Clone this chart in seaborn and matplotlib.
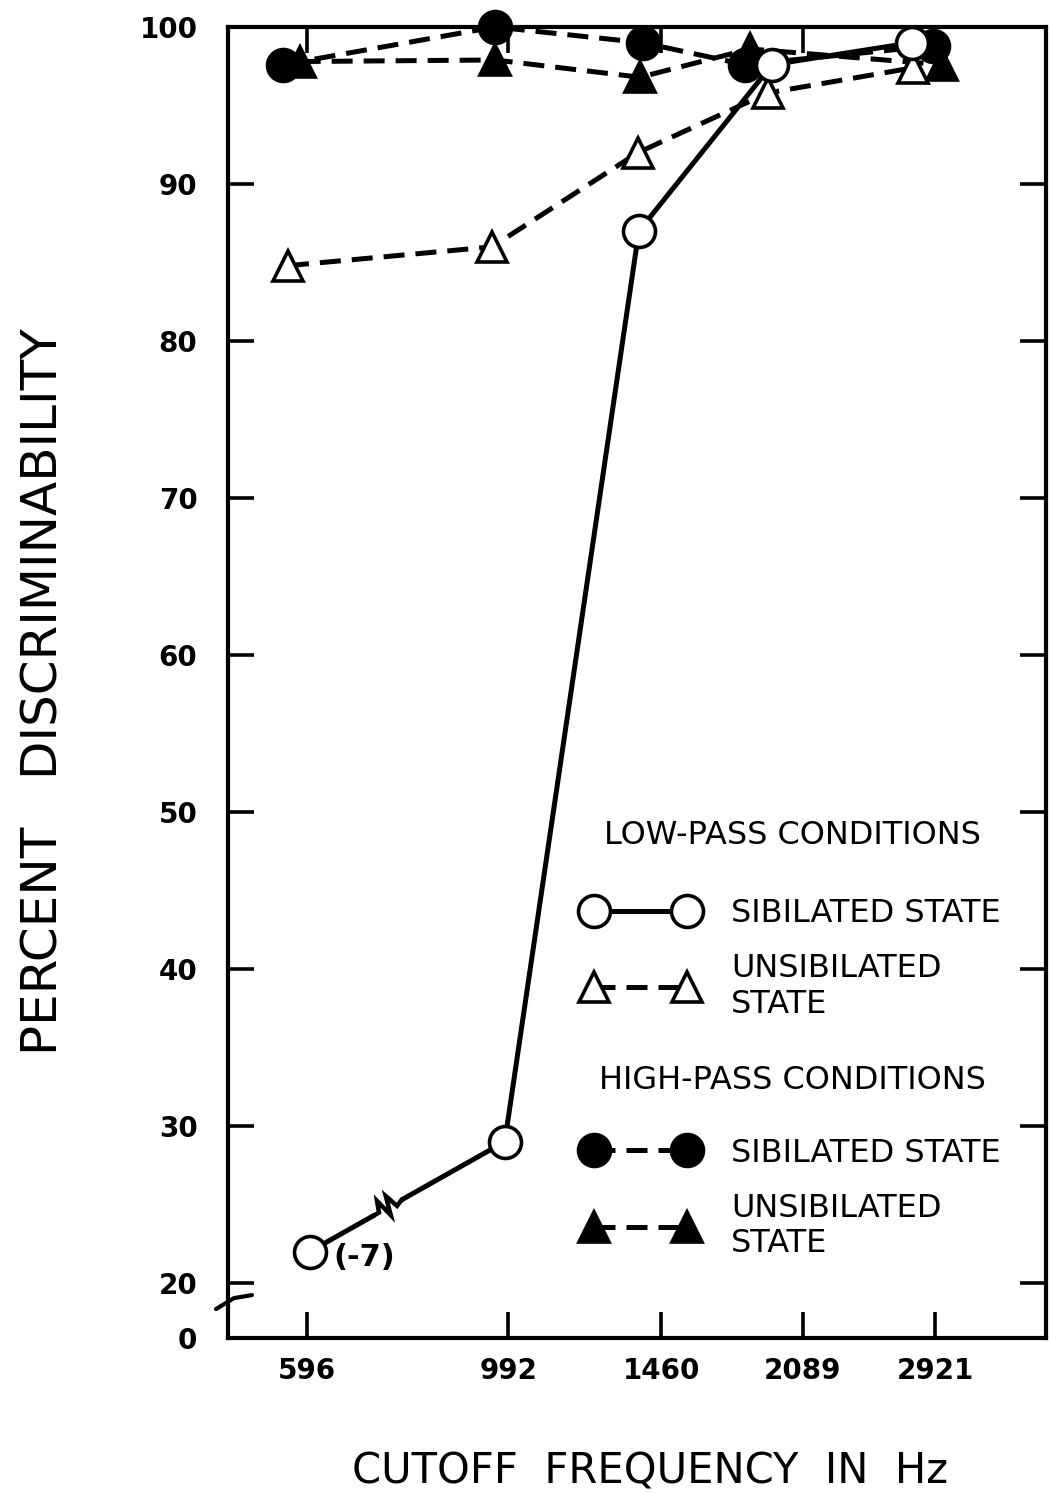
import numpy as np
import pandas as pd
import matplotlib
matplotlib.use("Agg")
import matplotlib.pyplot as plt
from matplotlib.lines import Line2D
import seaborn as sns

# ---------------- data ----------------
freq_ticks = [596, 992, 1460, 2089, 2921]
freq_tick_labels = ["596", "992", "1460", "2089", "2921"]
y_ticks = [0, 20, 30, 40, 50, 60, 70, 80, 90, 100]
y_tick_labels = ["0", "20", "30", "40", "50", "60", "70", "80", "90", "100"]

# low-pass, sibilated state (open circles, solid)
lp_sib_hz = [600, 983, 1380, 1933, 2754]
lp_sib_pct = [22, 29, 87, 97.6, 99.0]
lp_sib_note = "(-7)"
# low-pass, unsibilated state (open triangles, dashed)
lp_unsib_hz = [568, 952, 1377, 1913, 2761]
lp_unsib_pct = [84.8, 86.0, 92.0, 95.8, 97.4]
# high-pass, sibilated state (filled circles, dashed)
hp_sib_hz = [561, 959, 1394, 1805, 2905]
hp_sib_pct = [97.6, 100.0, 99.0, 97.6, 98.8]
# high-pass, unsibilated state (filled triangles, dashed)
hp_unsib_hz = [585, 959, 1384, 1828, 2972]
hp_unsib_pct = [97.8, 97.9, 96.8, 98.6, 97.6]

x_label = "CUTOFF  FREQUENCY  IN  Hz"
y_label = "PERCENT   DISCRIMINABILITY"
lp_title = "LOW-PASS CONDITIONS"
hp_title = "HIGH-PASS CONDITIONS"
lab_sib = "SIBILATED STATE"
lab_unsib = "UNSIBILATED\nSTATE"

# ---------------- style ----------------
sns.set_theme(style="white")
plt.rcParams["font.family"] = ["DejaVu Sans"]
plt.rcParams["axes.edgecolor"] = "black"
plt.rcParams["text.color"] = "black"
plt.rcParams["axes.labelcolor"] = "black"

W, H = 1051, 1492
fig = plt.figure(figsize=(W / 100, H / 100), dpi=100)
ax = fig.add_axes([228 / W, 1 - 1338 / H, (1046 - 228) / W, (1338 - 27) / H])

# broken y axis: 0..20 compressed
K = 0.175
def yfwd(y):
    y = np.asarray(y, dtype=float)
    return np.where(y >= 20, y, 20 - (20 - y) * K)

def yinv(t):
    t = np.asarray(t, dtype=float)
    return np.where(t >= 20, t, 20 - (20 - t) / K)

ax.set_xscale("log")
ax.set_yscale("function", functions=(yfwd, yinv))
ax.set_xlim(488, 3866)
ax.set_ylim(0, 100)

LW = 3.6
MS_C = 23
MS_T = 22
MEW = 2.6
dash = (0, (4.2, 2.2))

common = dict(ax=ax, color="black", estimator=None, sort=False, clip_on=False)

# high-pass (filled)
sns.lineplot(x=hp_unsib_hz, y=hp_unsib_pct, marker="^", markersize=MS_T,
             markerfacecolor="black", markeredgecolor="black", markeredgewidth=MEW,
             linewidth=LW, linestyle=dash, zorder=3, **common)
sns.lineplot(x=hp_sib_hz, y=hp_sib_pct, marker="o", markersize=MS_C,
             markerfacecolor="black", markeredgecolor="black", markeredgewidth=MEW,
             linewidth=LW, linestyle=dash, zorder=3, **common)
# low-pass (open)
sns.lineplot(x=lp_unsib_hz, y=lp_unsib_pct, marker="^", markersize=MS_T,
             markerfacecolor="white", markeredgecolor="black", markeredgewidth=MEW,
             linewidth=LW, linestyle=dash, zorder=4, **common)
sns.lineplot(x=lp_sib_hz, y=lp_sib_pct, marker="o", markersize=MS_C,
             markerfacecolor="white", markeredgecolor="black", markeredgewidth=MEW,
             linewidth=LW, linestyle="-", zorder=4, **common)

# ---------------- axes cosmetics ----------------
ax.minorticks_off()
ax.set_xticks(freq_ticks)
ax.set_xticklabels(freq_tick_labels)
ax.set_yticks(y_ticks)
ax.set_yticklabels(y_tick_labels)
for s in ax.spines.values():
    s.set_linewidth(3.0)
    s.set_color("black")
    s.set_visible(True)
ax.tick_params(axis="both", which="major", direction="in", length=19, width=2.6,
               color="black", labelsize=20, labelcolor="black",
               top=True, right=True, bottom=True, left=True)
ax.tick_params(axis="x", pad=14)
ax.tick_params(axis="y", pad=22)
for lab in ax.get_xticklabels() + ax.get_yticklabels():
    lab.set_fontweight("bold")
ax.grid(False)

ax.set_xlabel(x_label, fontsize=30, color="black")
ax.set_ylabel(y_label, fontsize=36, color="black")
ax.xaxis.set_label_coords(0.516, -0.086)
ax.yaxis.set_label_coords(-0.196, 0.493)

# annotation of the off-scale point
ax.annotate(lp_sib_note, xy=(lp_sib_hz[0], lp_sib_pct[0]), xytext=(17, -4),
            textcoords="offset points", fontsize=22, fontweight="bold",
            ha="left", va="center", color="black")

# zig-zag break mark on the first low-pass segment
p0 = ax.transData.transform((lp_sib_hz[0], lp_sib_pct[0]))
p1 = ax.transData.transform((lp_sib_hz[1], lp_sib_pct[1]))
d = p1 - p0
u = d / np.hypot(*d)
nvec = np.array([-u[1], u[0]])
c = p0 + 0.40 * d
inv = ax.transData.inverted()
erase = np.array([c - 15 * u, c + 15 * u])
erase_d = inv.transform(erase)
ax.plot(erase_d[:, 0], erase_d[:, 1], color="white", lw=LW + 3, zorder=4.5,
        solid_capstyle="butt")
ts = [-16, -10, -6, -1, 4, 9, 16]
ns = [0, 0, 11, -8, 11, -3, 0]
zz = np.array([c + t * u + n * nvec for t, n in zip(ts, ns)])
zz_d = inv.transform(zz)
ax.plot(zz_d[:, 0], zz_d[:, 1], color="black", lw=LW * 0.9, zorder=4.6,
        solid_joinstyle="miter")

# y-axis break mark (drawn in pixel offsets from the spine)
sp = ax.transData.transform((ax.get_xlim()[0], 13.8))
ainv = ax.transData.inverted()
brk = ainv.transform(np.array([[sp[0] - 12, sp[1] - 9], [sp[0] + 6, sp[1] + 2],
                               [sp[0] + 24, sp[1] + 5]]))
ax.plot(brk[:, 0], brk[:, 1], color="black", lw=3.0, clip_on=False, zorder=6,
        solid_capstyle="round")

# ---------------- legends ----------------
h_lp_sib = Line2D([], [], color="black", lw=LW, ls="-", marker="o", ms=MS_C,
                  mfc="white", mec="black", mew=MEW)
h_lp_unsib = Line2D([], [], color="black", lw=LW, ls=dash, marker="^", ms=MS_T,
                    mfc="white", mec="black", mew=MEW)
h_hp_sib = Line2D([], [], color="black", lw=LW, ls=dash, marker="o", ms=MS_C,
                  mfc="black", mec="black", mew=MEW)
h_hp_unsib = Line2D([], [], color="black", lw=LW, ls=dash, marker="^", ms=MS_T,
                    mfc="black", mec="black", mew=MEW)

leg_kw = dict(frameon=False, numpoints=2, handlelength=3.5, handletextpad=1.1,
              labelspacing=0.75, fontsize=23, title_fontsize=23, loc="upper left",
              borderaxespad=0, labelcolor="black")
leg1 = ax.legend([h_lp_sib, h_lp_unsib], [lab_sib, lab_unsib], title=lp_title,
                 bbox_to_anchor=(0.42, 0.405), **leg_kw)
leg1._legend_box.sep = 34
leg1.get_title().set_color("black")
ax.add_artist(leg1)
leg2 = ax.legend([h_hp_sib, h_hp_unsib], [lab_sib, lab_unsib], title=hp_title,
                 bbox_to_anchor=(0.42, 0.218), **leg_kw)
leg2._legend_box.sep = 30
leg2.get_title().set_color("black")

fig.savefig("out.png", dpi=100, facecolor="white")
